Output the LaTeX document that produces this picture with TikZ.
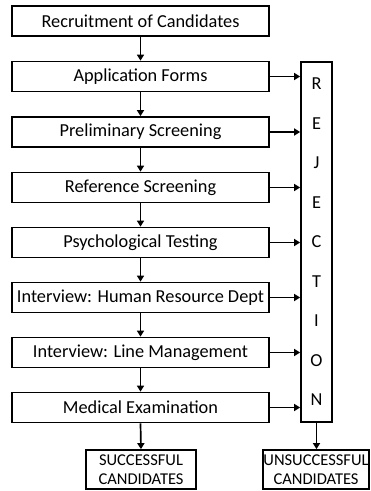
\documentclass[tikz,border=0pt]{standalone}
\usepackage{fontspec}
\setmainfont{Carlito}
\usetikzlibrary{arrows.meta}
\begin{document}
\begin{tikzpicture}[x=1pt,y=1pt,
  stage/.style={draw, line width=1.7pt, minimum width=257pt, minimum height=30pt,
    inner sep=0pt, font=\fontsize{18.3}{20}\selectfont},
  outcome/.style={draw, line width=1.7pt, minimum height=39pt, inner sep=0pt,
    align=center, font=\fontsize{16.5}{19}\selectfont},
  flow/.style={line width=1.7pt, -{Triangle[length=6pt,width=7pt]}}]
\useasboundingbox (0,0) rectangle (371,491);
% main sequence of stages
\node[stage] (s1) at (140.5,470) {Recruitment of Candidates};
\node[stage] (s2) at (140.5,414.5) {Application Forms};
\node[stage] (s3) at (140.5,359) {Preliminary Screening};
\node[stage] (s4) at (140.5,303.5) {Reference Screening};
\node[stage] (s5) at (140.5,248.5) {Psychological Testing};
\node[stage] (s6) at (140.5,193.5) {Interview: Human Resource Dept};
\node[stage] (s7) at (140.5,138.5) {Interview: Line Management};
\node[stage] (s8) at (140.5,83.5) {Medical Examination};
% rejection column
\node[draw, line width=1.7pt, minimum width=31pt, minimum height=360pt, inner sep=0pt,
  align=center, font=\fontsize{18.3}{39.5}\selectfont] (rej) at (316.5,249)
  {R\\E\\J\\E\\C\\T\\I\\O\\N};
% final outcomes
\node[outcome, minimum width=110pt] (ok) at (141,21.5) {SUCCESSFUL\\CANDIDATES};
\node[outcome, minimum width=106pt] (no) at (316,21.5) {UNSUCCESSFUL\\CANDIDATES};
% arrows down the sequence
\foreach \a/\b in {s1/s2,s2/s3,s3/s4,s4/s5,s5/s6,s6/s7,s7/s8,s8/ok}
  \draw[flow] (\a.south) -- (\b.north);
% arrows into the rejection column
\foreach \a in {s2,s3,s4,s5,s6,s7,s8}
  \draw[flow] (\a.east) -- (\a.east -| rej.west);
\draw[flow] (rej.south) -- (rej.south |- no.north);
\end{tikzpicture}
\end{document}
